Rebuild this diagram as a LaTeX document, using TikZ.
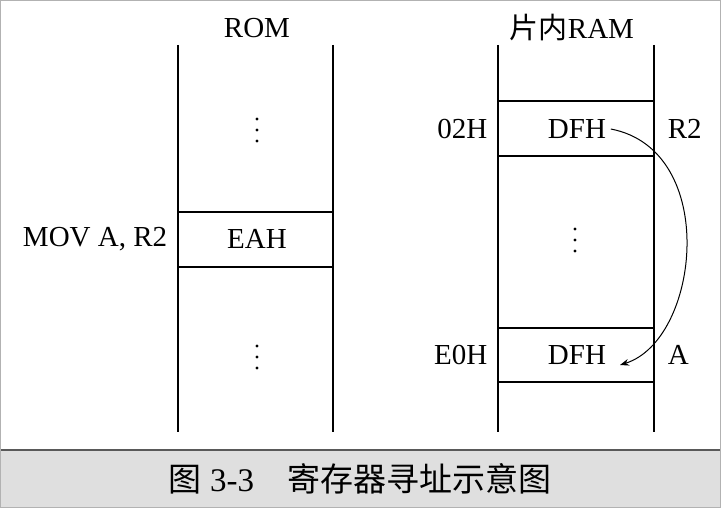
\documentclass[tikz,border=0pt]{standalone}
\usepackage{fontspec}
\usetikzlibrary{arrows.meta}
\setmainfont{Liberation Serif}
\newfontfamily\cjk{Noto Sans CJK SC}
\begin{document}
\begin{tikzpicture}[x=1pt,y=-1pt,line width=1.6pt,
  lbl/.style={font=\fontsize{29}{32}\selectfont,inner sep=0pt},
  vd/.style={inner sep=0pt,minimum width=4pt,minimum height=28pt,
    path picture={\foreach \k in {-11,0,11}\fill (path picture bounding box.center) ++(0,\k) circle (1.6pt);}}]
\useasboundingbox (0,0) rectangle (721,508);
\fill[gray!25] (0,450) rectangle (721,508);
\draw[gray!70!black,line width=1.2pt] (0,450) -- (721,450);
\draw[gray!60,line width=1pt] (0.5,0.5) rectangle (720.5,507.5);
% ROM
\draw (178,45) -- (178,432); \draw (333,45) -- (333,432);
\draw (178,212) -- (333,212); \draw (178,267) -- (333,267);
\node[lbl] (rom) at (257,28) {ROM};
\node[lbl] (eah) at (257,239) {EAH};
\node[lbl,anchor=east] (mov) at (168,239) {MOV A, R2};
\node[vd] (d1) at (257,130) {};
\node[vd] (d2) at (257,357) {};
% RAM
\draw (498,45) -- (498,432); \draw (654,45) -- (654,432);
\foreach \y in {101,156,328,382} \draw (498,\y) -- (654,\y);
\node[lbl] (ram) at (572,28) {{\cjk 片内}RAM};
\node[lbl] (dfh1) at (577,129) {DFH};
\node[lbl] (dfh2) at (577,355) {DFH};
\node[lbl,anchor=east] (a02) at (488,129) {02H};
\node[lbl,anchor=east] (ae0) at (488,355) {E0H};
\node[lbl,anchor=west] (r2) at (667,129) {R2};
\node[lbl,anchor=west] (aa) at (667,355) {A};
\node[vd] (d3) at (575,240) {};
\draw[line width=1pt,-{Stealth[length=9pt]}] (dfh1.east) ++(4,0) .. controls (720,150) and (700,340) .. (620,365);
\node[font=\fontsize{33}{36}\selectfont,inner sep=0pt] (cap) at (360,479) {{\cjk 图} 3-3\quad{\cjk 寄存器寻址示意图}};
\end{tikzpicture}
\end{document}
